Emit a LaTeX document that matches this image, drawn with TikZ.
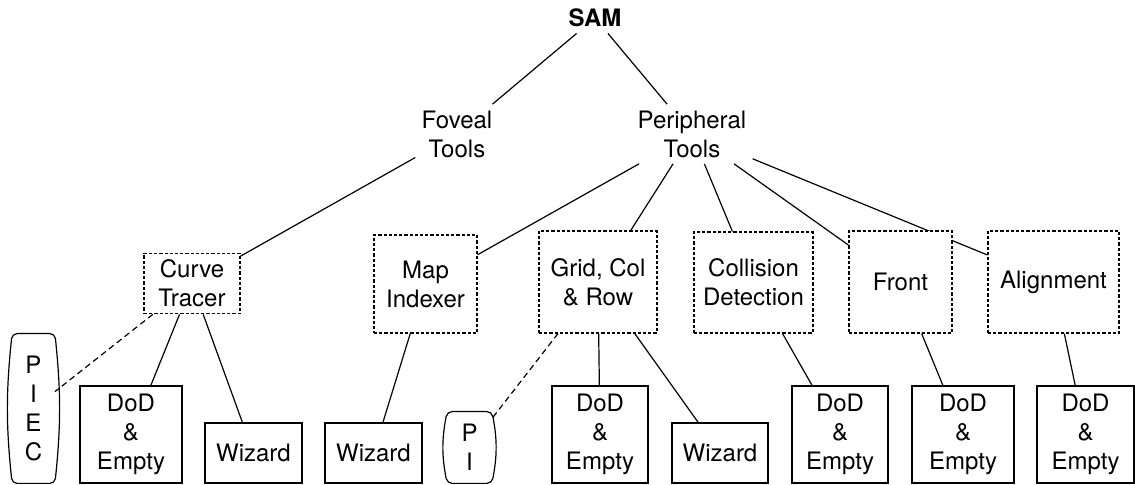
\documentclass[tikz,border=0pt]{standalone}
\usepackage{fontspec}
\setmainfont{TeX Gyre Heros}
\usetikzlibrary{backgrounds}
\begin{document}
\begin{tikzpicture}[x=0.5pt,y=-0.5pt,
  every node/.style={font=\fontsize{12}{14.5}\selectfont, align=center},
  heading/.style={inner sep=3pt},
  toolbox/.style={draw, fill=white, line width=0.55pt, dash pattern=on 1.6pt off 1pt},
  leafbox/.style={draw, fill=white, line width=0.6pt},
  pill/.style={inner sep=0pt},
  pillline/.style={line width=0.6pt, rounded corners=2.5pt},
  link/.style={line width=0.6pt},
  weak/.style={link, dash pattern=on 3pt off 2pt}]
\useasboundingbox (0,0) rectangle (1135,485);

% root and the two tool families
\node[heading, font=\fontsize{12}{14.5}\selectfont\bfseries] (sam) at (595,18) {SAM};
\node[heading] (fov) at (457,134) {Foveal\\Tools};
\node[heading] (per) at (692,134) {Peripheral\\Tools};

% tools (dashed boxes)
\node[toolbox, minimum width=48pt, minimum height=29.5pt] (ct) at (192,283.5) {Curve\\Tracer};
\node[toolbox, minimum width=51.5pt, minimum height=49pt] (mi) at (425.5,284) {Map\\Indexer};
\node[toolbox, minimum width=59pt, minimum height=51pt] (gcr) at (598,282) {Grid, Col\\\& Row};
\node[toolbox, minimum width=59.5pt, minimum height=50.5pt] (cd) at (753.5,282.5) {Collision\\Detection};
\node[toolbox, minimum width=51.5pt, minimum height=51pt] (front) at (900.5,282) {Front};
\node[toolbox, minimum width=65.5pt, minimum height=51pt] (align) at (1053.5,282) {Alignment};

% leaves
\node[pill, minimum width=21pt, minimum height=74.5pt] (piec) at (33.5,408.5) {P\\I\\E\\C};
\node[leafbox, minimum width=51pt, minimum height=48.5pt] (dodA) at (131,434.5) {DoD\\\&\\Empty};
\node[leafbox, minimum width=48.5pt, minimum height=30pt] (wizA) at (253.5,453) {Wizard};
\node[leafbox, minimum width=48.5pt, minimum height=30pt] (wizB) at (373.5,453) {Wizard};
\node[pill, minimum width=22pt, minimum height=35.5pt] (pi) at (469.5,447.5) {P\\I};
\node[leafbox, minimum width=48pt, minimum height=48.5pt] (dodB) at (600,434.5) {DoD\\\&\\Empty};
\node[leafbox, minimum width=48pt, minimum height=30pt] (wizC) at (720,453) {Wizard};
\node[leafbox, minimum width=48pt, minimum height=48.5pt] (dodC) at (840,434.5) {DoD\\\&\\Empty};
\node[leafbox, minimum width=51pt, minimum height=48.5pt] (dodD) at (963,434.5) {DoD\\\&\\Empty};
\node[leafbox, minimum width=48.5pt, minimum height=48.5pt] (dodE) at (1085.5,434.5) {DoD\\\&\\Empty};

% outlines of the two pill-shaped nodes: straight ends, bulging sides
\draw[pillline] (piec.north) -- (piec.north east)
  to[bend left=6] (piec.south east) -- (piec.south west)
  to[bend left=6] (piec.north west) -- cycle;
\draw[pillline] (pi.north) -- (pi.north east)
  to[bend left=11] (pi.south east) -- (pi.south west)
  to[bend left=11] (pi.north west) -- cycle;

% connectors, behind the boxes
\begin{scope}[on background layer]
  \draw[link] (sam) -- (fov);
  \draw[link] (sam) -- (per);
  \draw[link] (fov) -- (ct);
  \draw[link] (per) -- (mi);
  \draw[link] (per) -- (gcr);
  \draw[link] (per) -- (cd);
  \draw[link] (per) -- (front);
  \draw[link] (per) -- (align);
  \draw[weak] (ct) -- (piec);
  \draw[link] (ct) -- (dodA);
  \draw[link] (ct) -- (wizA);
  \draw[link] (mi) -- (wizB);
  \draw[weak] (gcr) -- (pi);
  \draw[link] (gcr) -- (dodB);
  \draw[link] (gcr) -- (wizC);
  \draw[link] (cd) -- (dodC);
  \draw[link] (front) -- (dodD);
  \draw[link] (align) -- (dodE);
\end{scope}
\end{tikzpicture}
\end{document}
